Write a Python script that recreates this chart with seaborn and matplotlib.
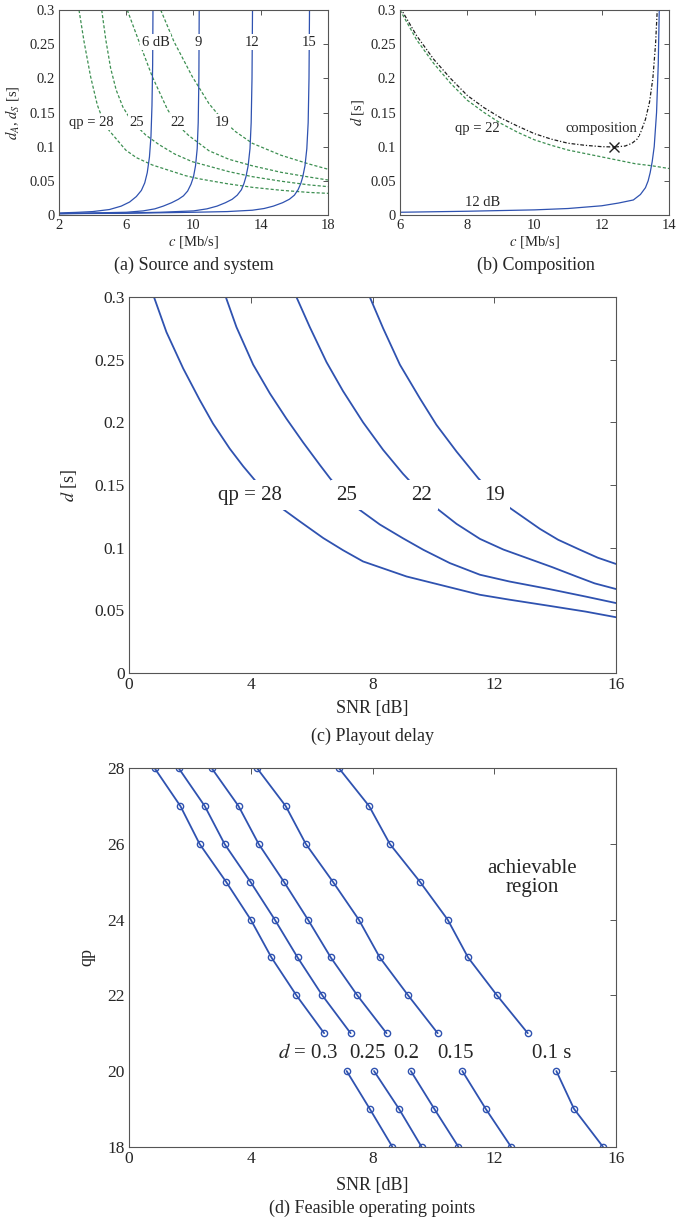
import numpy as np
import pandas as pd
import matplotlib
matplotlib.use('Agg')
import matplotlib.pyplot as plt
import matplotlib.ticker as mticker
import seaborn as sns

# ---------- data: (a) source and system ----------
# system delay d_S over channel rate c, one curve per SNR
sys_labels = ['6 dB', '9', '12', '15']
sys_c_6 = [2, 3, 4, 5, 5.7, 6.2, 6.6, 6.9, 7.1, 7.25, 7.38, 7.47, 7.53, 7.57, 7.59]
sys_d_6 = [0.003, 0.0038, 0.005, 0.008, 0.013, 0.019, 0.027, 0.036, 0.047, 0.062, 0.085, 0.115, 0.16, 0.22, 0.3]
sys_c_9 = [2, 4, 6, 7, 7.7, 8.2, 8.7, 9.1, 9.4, 9.65, 9.85, 10.0, 10.12, 10.22, 10.28, 10.32, 10.34]
sys_d_9 = [0.002, 0.003, 0.004, 0.006, 0.009, 0.013, 0.018, 0.023, 0.028, 0.035, 0.045, 0.056, 0.072, 0.097, 0.135, 0.2, 0.3]
sys_c_12 = [2, 6, 8, 10, 10.8, 11.4, 11.9, 12.3, 12.6, 12.85, 13.0, 13.12, 13.25, 13.36, 13.43, 13.48, 13.51]
sys_d_12 = [0.002, 0.003, 0.004, 0.006, 0.009, 0.013, 0.018, 0.023, 0.029, 0.037, 0.046, 0.056, 0.072, 0.097, 0.135, 0.2, 0.3]
sys_c_15 = [2, 6, 10, 12, 13.5, 14.2, 14.75, 15.3, 15.7, 16.0, 16.22, 16.38, 16.5, 16.63, 16.74, 16.82, 16.87, 16.9]
sys_d_15 = [0.002, 0.0025, 0.004, 0.005, 0.007, 0.0095, 0.013, 0.018, 0.023, 0.029, 0.037, 0.046, 0.056, 0.072, 0.097, 0.135, 0.2, 0.3]

# source delay d_A over c, one curve per qp
src_labels = ['qp = 28', '25', '22', '19']
src_c_28 = [3.19, 3.49, 3.88, 4.28, 4.6, 4.97, 5.97, 6.6, 7.55, 9.53, 10.33, 12, 13.5, 15.2, 16.89, 18]
src_d_28 = [0.3, 0.2537, 0.2024, 0.161, 0.14, 0.124, 0.095, 0.084, 0.0732, 0.0575, 0.053, 0.0458, 0.0405, 0.0362, 0.033, 0.0317]
src_c_25 = [4.54, 4.78, 5.07, 5.4, 5.8, 6.3, 7.16, 7.95, 8.9, 9.93, 12.11, 13.5, 15.2, 16.89, 18]
src_d_25 = [0.3, 0.257, 0.215, 0.183, 0.158, 0.138, 0.117, 0.103, 0.089, 0.078, 0.0634, 0.0561, 0.0495, 0.044, 0.0415]
src_c_22 = [6.06, 6.76, 7.55, 8.44, 9.0, 9.73, 10.92, 12.11, 13.5, 15.2, 16.89, 18]
src_d_22 = [0.3, 0.2537, 0.2024, 0.155, 0.133, 0.116, 0.094, 0.0815, 0.072, 0.0625, 0.0555, 0.0512]
src_c_19 = [8.05, 8.84, 9.93, 10.92, 11.7, 12.5, 13.5, 15.2, 16.89, 18]
src_d_19 = [0.3, 0.2537, 0.2024, 0.163, 0.14, 0.122, 0.1049, 0.0875, 0.0745, 0.067]

# ---------- data: (b) composition ----------
comp_src_c = [6, 6.5, 7, 7.5, 8, 8.5, 9, 9.5, 10, 10.5, 11, 11.5, 12, 12.5, 13, 13.5, 14]
comp_src_d = [0.3, 0.256, 0.222, 0.193, 0.168, 0.15, 0.134, 0.121, 0.11, 0.102, 0.095, 0.09, 0.085, 0.08, 0.075, 0.072, 0.068]
comp_sys_c = [6, 8, 10, 11, 12, 12.5, 12.94, 13.15, 13.3, 13.38, 13.44, 13.5, 13.56, 13.63, 13.68, 13.71]
comp_sys_d = [0.004, 0.0055, 0.0075, 0.0095, 0.0135, 0.0175, 0.022, 0.03, 0.04, 0.05, 0.062, 0.078, 0.1, 0.15, 0.22, 0.3]
comp_tot_c = [6, 6.5, 7, 7.5, 8, 8.5, 9, 9.5, 10, 10.5, 11, 11.5, 12, 12.4, 12.7, 12.9, 13.05, 13.15,
              13.3, 13.42, 13.52, 13.6, 13.65]
comp_tot_d = [0.304, 0.262, 0.228, 0.2, 0.175, 0.157, 0.142, 0.13, 0.119, 0.111, 0.105, 0.102, 0.1, 0.0995,
              0.101, 0.105, 0.111, 0.12, 0.14, 0.165, 0.2, 0.25, 0.3]
comp_opt_c = [12.36]
comp_opt_d = [0.1]

# ---------- data: (c) playout delay ----------
play_labels = ['qp = 28', '25', '22', '19']
play_snr_28 = [0.82, 1.23, 1.78, 2.32, 2.76, 3.31, 3.75, 4.13, 4.55, 5.01, 5.61, 6.38, 7.03, 7.69, 9.12,
               10.21, 11.53, 12.5, 13.83, 15.0, 16.0]
play_d_28 = [0.3, 0.272, 0.243, 0.218, 0.199, 0.179, 0.165, 0.154, 0.142, 0.1316, 0.121, 0.1077, 0.098,
             0.089, 0.077, 0.0704, 0.0624, 0.0585, 0.0535, 0.049, 0.0445]
play_snr_25 = [3.18, 3.53, 4.08, 4.63, 5.17, 5.72, 6.27, 6.6, 7.05, 7.53, 8.24, 9.0, 9.67, 10.54, 11.53,
               12.5, 13.8, 15.0, 16.0]
play_d_25 = [0.3, 0.276, 0.246, 0.223, 0.203, 0.184, 0.166, 0.1555, 0.1425, 0.131, 0.1185, 0.1075,
             0.0983, 0.0877, 0.0784, 0.073, 0.067, 0.061, 0.0558]
play_snr_22 = [5.5, 5.94, 6.49, 7.03, 7.69, 8.35, 9.0, 9.5, 10.05, 10.76, 11.53, 12.3, 13.1, 13.9, 14.7,
               15.3, 16.0]
play_d_22 = [0.3, 0.276, 0.248, 0.225, 0.2, 0.178, 0.159, 0.146, 0.1325, 0.119, 0.107, 0.0985,
             0.0915, 0.0845, 0.077, 0.0715, 0.067]
play_snr_19 = [7.91, 8.35, 8.9, 9.56, 10.1, 10.76, 11.47, 12.0, 12.52, 13.5, 14.1, 14.8, 15.4, 16.0]
play_d_19 = [0.3, 0.275, 0.246, 0.219, 0.198, 0.1767, 0.1555, 0.142, 0.1316, 0.115, 0.1063, 0.0985,
             0.092, 0.087]

# ---------- data: (d) feasible operating points ----------
qp_levels = [28, 27, 26, 25, 24, 23, 22, 21, 20, 19, 18]
feas_labels = ['$d$ = 0.3', '0.25', '0.2', '0.15', '0.1 s']
feas_snr_03 = [0.845, 1.69, 2.32, 3.19, 4.0, 4.68, 5.50, 6.41, 7.15, 7.91, 8.65]
feas_snr_025 = [1.635, 2.49, 3.14, 3.99, 4.79, 5.54, 6.35, 7.28, 8.05, 8.87, 9.61]
feas_snr_02 = [2.72, 3.60, 4.26, 5.09, 5.88, 6.63, 7.50, 8.46, 9.26, 10.03, 10.82]
feas_snr_015 = [4.21, 5.15, 5.81, 6.70, 7.55, 8.24, 9.17, 10.14, 10.95, 11.72, 12.55]
feas_snr_01 = [6.9, 7.89, 8.57, 9.56, 10.47, 11.14, 12.09, 13.1, 14.04, 14.62, 15.57]

# ---------- style ----------
sns.set_style('white')
plt.rcParams['font.family'] = ['Liberation Serif', 'DejaVu Serif']
plt.rcParams['mathtext.fontset'] = 'stix'

BLUE = '#2f52b0'
GREEN = '#3d8f52'
FRAME = '#555555'
W, H = 690, 1219

fig = plt.figure(figsize=(W / 100, H / 100), dpi=100)


def add_ax(x0, y0, x1, y1):
    return fig.add_axes([x0 / W, 1 - y1 / H, (x1 - x0) / W, (y1 - y0) / H])


def style(ax, fs, tl):
    for s in ax.spines.values():
        s.set_color(FRAME)
        s.set_linewidth(0.8)
    ax.tick_params(direction='in', top=True, right=True, length=tl, width=0.7,
                   color=FRAME, labelsize=fs, pad=3)
    ax.yaxis.set_major_formatter(mticker.FormatStrFormatter('%g'))
    ax.xaxis.set_major_formatter(mticker.FormatStrFormatter('%g'))


def curve(ax, x, y, **kw):
    sns.lineplot(x=x, y=y, ax=ax, sort=False, estimator=None, **kw)


white_box = dict(facecolor='white', edgecolor='none', pad=1.0)

# ---------- (a) ----------
ax = add_ax(59, 10, 328, 215)
for cx, dy in [(src_c_28, src_d_28), (src_c_25, src_d_25), (src_c_22, src_d_22), (src_c_19, src_d_19)]:
    curve(ax, cx, dy, color=GREEN, lw=0.9, dashes=(2.5, 1.6))
for cx, dy in [(sys_c_6, sys_d_6), (sys_c_9, sys_d_9), (sys_c_12, sys_d_12), (sys_c_15, sys_d_15)]:
    curve(ax, cx, dy, color=BLUE, lw=0.9)
ax.set_xlim(2, 18)
ax.set_ylim(0, 0.3)
ax.set_xticks([2, 6, 10, 14, 18])
ax.set_yticks(np.arange(0, 0.301, 0.05))
style(ax, 10.5, 3.5)
for lab, xc in zip(sys_labels, [7.75, 10.3, 13.5, 16.89]):
    ax.text(xc, 0.253, lab, ha='center', va='center', fontsize=10.5, bbox=white_box, zorder=5)
for lab, xc in zip(src_labels, [3.93, 6.61, 9.04, 11.7]):
    ax.text(xc, 0.1356, lab, ha='center', va='center', fontsize=10.5, bbox=white_box, zorder=5)
ax.set_xlabel('$c$ [Mb/s]', fontsize=10.5)
ax.set_ylabel('$d_A$, $d_S$ [s]', fontsize=10.5)
ax.xaxis.set_label_coords(0.5, -0.095)
ax.yaxis.set_label_coords(-0.14, 0.5)
fig.text(193.5 / W, 1 - 265 / H, '(a) Source and system', ha='center', va='center', fontsize=13)

# ---------- (b) ----------
ax = add_ax(400, 10, 669, 215)
curve(ax, comp_src_c, comp_src_d, color=GREEN, lw=0.9, dashes=(2.5, 1.6))
curve(ax, comp_sys_c, comp_sys_d, color=BLUE, lw=0.9)
curve(ax, comp_tot_c, comp_tot_d, color='#202020', lw=0.9, dashes=(3, 1.5, 1, 1.5))
ax.plot(comp_opt_c, comp_opt_d, marker='x', color='#202020', ms=7, mew=1.0, ls='none', zorder=6)
ax.set_xlim(6, 14)
ax.set_ylim(0, 0.3)
ax.set_xticks([6, 8, 10, 12, 14])
ax.set_yticks(np.arange(0, 0.301, 0.05))
style(ax, 10.5, 3.5)
ax.text(8.29, 0.127, 'qp = 22', ha='center', va='center', fontsize=10.5)
ax.text(12.0, 0.127, 'composition', ha='center', va='center', fontsize=10.5, bbox=white_box, zorder=5)
ax.text(8.46, 0.018, '12 dB', ha='center', va='center', fontsize=10.5)
ax.set_xlabel('$c$ [Mb/s]', fontsize=10.5)
ax.set_ylabel('$d$ [s]', fontsize=10.5)
ax.xaxis.set_label_coords(0.5, -0.095)
ax.yaxis.set_label_coords(-0.125, 0.5)
fig.text(536 / W, 1 - 265 / H, '(b) Composition', ha='center', va='center', fontsize=13)

# ---------- (c) ----------
ax = add_ax(129, 297, 616, 673)
for sx, dy in [(play_snr_28, play_d_28), (play_snr_25, play_d_25), (play_snr_22, play_d_22), (play_snr_19, play_d_19)]:
    curve(ax, sx, dy, color=BLUE, lw=1.3)
ax.set_xlim(0, 16)
ax.set_ylim(0, 0.3)
ax.set_xticks([0, 4, 8, 12, 16])
ax.set_yticks(np.arange(0, 0.301, 0.05))
style(ax, 12.5, 4.5)
box_c = dict(facecolor='white', edgecolor='none', pad=4.0)
for lab, xc in zip(play_labels, [3.97, 7.15, 9.61, 12.0]):
    ax.text(xc, 0.142, lab, ha='center', va='center', fontsize=15, bbox=box_c, zorder=5)
ax.set_xlabel('SNR [dB]', fontsize=13)
ax.set_ylabel('$d$ [s]', fontsize=13)
ax.xaxis.set_label_coords(0.5, -0.073)
ax.yaxis.set_label_coords(-0.103, 0.5)
fig.text(372.5 / W, 1 - 736 / H, '(c) Playout delay', ha='center', va='center', fontsize=13)

# ---------- (d) ----------
ax = add_ax(129, 768.3, 616, 1146.7)
for snr in [feas_snr_03, feas_snr_025, feas_snr_02, feas_snr_015, feas_snr_01]:
    for part in [slice(0, 8), slice(8, 11)]:
        curve(ax, snr[part], qp_levels[part], color=BLUE, lw=1.3, marker='o', markersize=4.5,
              markerfacecolor='none', markeredgecolor=BLUE, markeredgewidth=1.0)
ax.set_xlim(0, 16)
ax.set_ylim(18, 28)
ax.set_xticks([0, 4, 8, 12, 16])
ax.set_yticks([18, 20, 22, 24, 26, 28])
style(ax, 12.5, 4.5)
for lab, xc in zip(feas_labels, [5.88, 7.82, 9.12, 10.72, 13.9]):
    ax.text(xc, 20.45, lab, ha='center', va='center', fontsize=15)
ax.text(13.25, 25.1, 'achievable\nregion', ha='center', va='center', fontsize=15, linespacing=1.05)
ax.set_xlabel('SNR [dB]', fontsize=13)
ax.set_ylabel('qp', fontsize=13)
ax.xaxis.set_label_coords(0.5, -0.079)
ax.yaxis.set_label_coords(-0.07, 0.5)
fig.text(372.5 / W, 1 - 1208 / H, '(d) Feasible operating points', ha='center', va='center', fontsize=13)

fig.savefig('out.png', dpi=100)
